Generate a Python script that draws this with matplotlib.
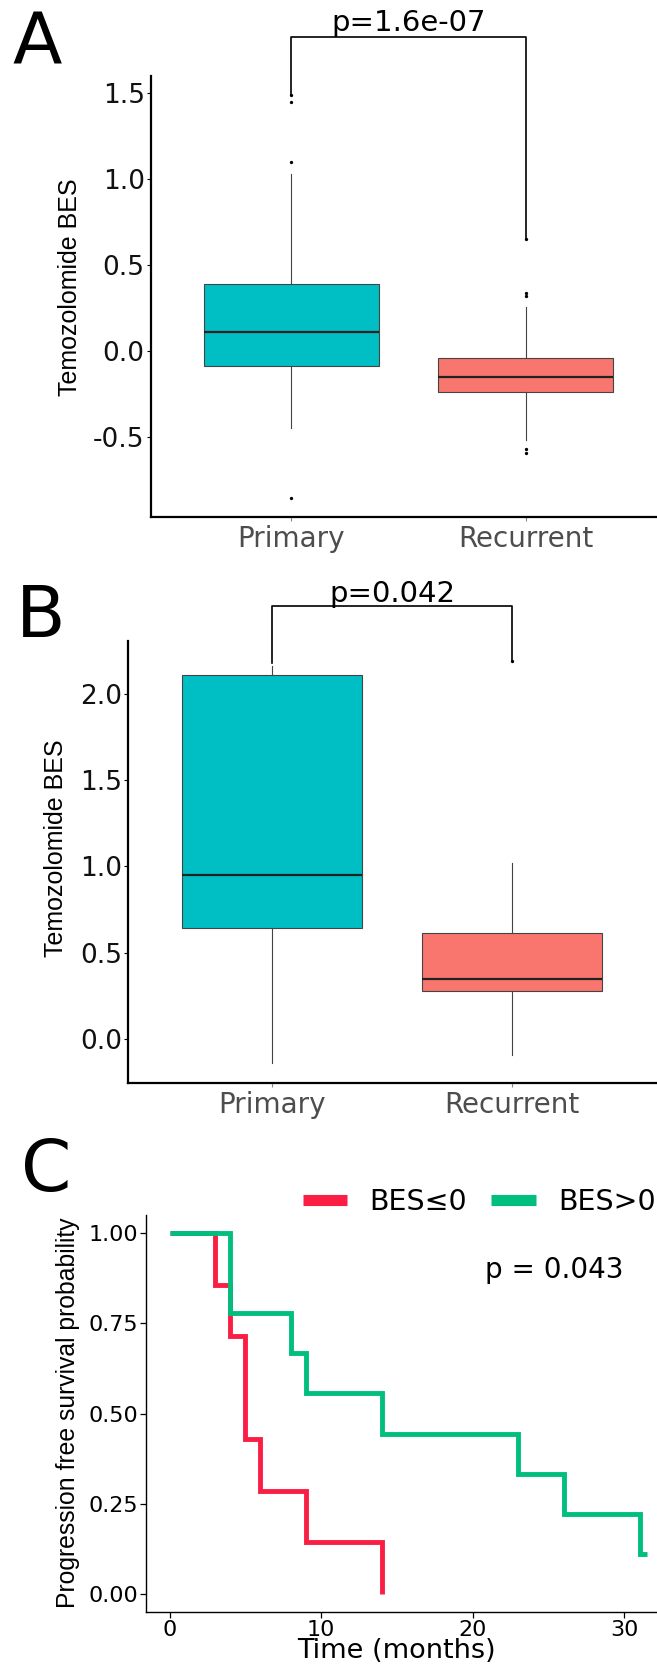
import numpy as np
import matplotlib
matplotlib.use('Agg')
import matplotlib.pyplot as plt
from matplotlib.lines import Line2D

# figure size in pixels (dpi 100)
W, H = 657, 1664

# ---- Panel A: first cohort boxplot ----
groups = ['Primary', 'Recurrent']
box_colors = ['#00BFC4', '#F8766D']

a_q1 = [-0.084, -0.24]
a_med = [0.112, -0.152]
a_q3 = [0.388, -0.04]
a_whislo = [-0.446, -0.52]
a_whishi = [1.03, 0.254]
a_fliers = [[1.10, 1.45, 1.488, -0.853], [0.32, 0.335, 0.65, -0.57, -0.59]]
a_yticks = [-0.5, 0.0, 0.5, 1.0, 1.5]
a_p = 'p=1.6e-07'

# ---- Panel B: second cohort boxplot ----
b_q1 = [0.644, 0.279]
b_med = [0.952, 0.346]
b_q3 = [2.107, 0.612]
b_whislo = [-0.14, -0.09]
b_whishi = [2.16, 1.02]
b_fliers = [[], [2.19]]
b_yticks = [0.0, 0.5, 1.0, 1.5, 2.0]
b_p = 'p=0.042'

# ---- Panel C: Kaplan-Meier ----
km_labels = ['BES\u22640', 'BES>0']
km_colors = ['#FA1E44', '#00BE7E']
red_times = [0, 3, 4, 5, 6, 9, 14]
red_surv = [1.0, 0.857, 0.714, 0.429, 0.286, 0.143, 0.0]
green_times = [0, 4, 8, 9, 14, 23, 26, 31, 31.5]
green_surv = [1.0, 0.778, 0.667, 0.556, 0.444, 0.333, 0.222, 0.111, 0.111]
c_xticks = [0, 10, 20, 30]
c_yticks = [0.00, 0.25, 0.50, 0.75, 1.00]
c_p = 'p = 0.043'

YLAB_FONT = ['Liberation Sans', 'DejaVu Sans']
plt.rcParams['font.family'] = ['DejaVu Sans']


def px_rect(left, top, right, bottom):
    return [left / W, 1 - bottom / H, (right - left) / W, (bottom - top) / H]


def fig_xy(x, y):
    return x / W, 1 - y / H


def box_panel(fig, ax, q1, med, q3, lo, hi, fliers, ylim, yticks,
              p_text, bracket_y, tips, p_gap, ylab_x, ylab_y):
    stats = []
    for i in range(len(groups)):
        stats.append(dict(q1=q1[i], med=med[i], q3=q3[i], whislo=lo[i],
                          whishi=hi[i], fliers=fliers[i], label=groups[i]))
    bp = ax.bxp(stats, positions=[1, 2], widths=0.75, patch_artist=True,
                showcaps=False,
                boxprops=dict(edgecolor='#444444', linewidth=0.8),
                medianprops=dict(color='#222222', linewidth=1.6),
                whiskerprops=dict(color='#444444', linewidth=0.8),
                flierprops=dict(marker='o', markersize=2.4,
                                markerfacecolor='black',
                                markeredgecolor='none'))
    for patch, c in zip(bp['boxes'], box_colors):
        patch.set_facecolor(c)

    ax.set_xlim(0.4, 2.6)
    ax.set_ylim(ylim)
    ax.set_yticks(yticks)
    ax.set_yticklabels(['%.1f' % v for v in yticks])
    for s in ['top', 'right']:
        ax.spines[s].set_visible(False)
    for s in ['left', 'bottom']:
        ax.spines[s].set_linewidth(1.6)
    ax.tick_params(axis='y', length=3, width=0.8, pad=1.5, labelsize=19,
                   labelcolor='#111111')
    ax.tick_params(axis='x', length=3, width=0.8, color='#888888', pad=3,
                   labelsize=20, labelcolor='#4D4D4D')

    # significance bracket
    ax.plot([1, 1, 2, 2], [tips[0], bracket_y, bracket_y, tips[1]],
            color='black', linewidth=1.2, clip_on=False)
    ax.text(1.5, bracket_y + p_gap, p_text, ha='center', va='baseline',
            fontsize=21, clip_on=False)

    ax.set_ylabel('Temozolomide BES', family=YLAB_FONT, fontsize=18)
    ax.yaxis.set_label_coords(*fig_xy(ylab_x, ylab_y), transform=fig.transFigure)
    ax.yaxis.label.set_va('center')


fig = plt.figure(figsize=(W / 100, H / 100), dpi=100)

# Panel A
ax_a = fig.add_axes(px_rect(151, 76, 666, 517))
box_panel(fig, ax_a, a_q1, a_med, a_q3, a_whislo, a_whishi, a_fliers,
          (-0.965, 1.60), a_yticks, a_p, 1.825, [1.488, 0.65], 0.035, 70, 287)

# Panel B
ax_b = fig.add_axes(px_rect(128, 641, 656, 1083))
box_panel(fig, ax_b, b_q1, b_med, b_q3, b_whislo, b_whishi, b_fliers,
          (-0.255, 2.305), b_yticks, b_p, 2.508, [2.175, 2.19], 0.025, 56, 848)

# Panel C
ax_c = fig.add_axes(px_rect(146, 1215, 663, 1612))
ax_c.step(red_times, red_surv, where='post', color=km_colors[0],
          linewidth=3.5, solid_capstyle='butt', solid_joinstyle='miter')
ax_c.step(green_times, green_surv, where='post', color=km_colors[1],
          linewidth=3.5, solid_capstyle='butt', solid_joinstyle='miter')
ax_c.set_xlim(-1.55, 32.55)
ax_c.set_ylim(-0.05, 1.05)
ax_c.set_xticks(c_xticks)
ax_c.set_yticks(c_yticks)
ax_c.set_yticklabels(['%.2f' % v for v in c_yticks])
for s in ['top', 'right']:
    ax_c.spines[s].set_visible(False)
for s in ['left', 'bottom']:
    ax_c.spines[s].set_linewidth(1.0)
ax_c.tick_params(axis='both', length=4, width=0.9, pad=1.5, labelsize=16,
                 labelcolor='black')
ax_c.text(25.4, 0.876, c_p, ha='center', va='baseline', fontsize=20)

ax_c.set_ylabel('Progression free survival probability', family=YLAB_FONT,
                fontsize=17.8)
ax_c.yaxis.set_label_coords(*fig_xy(68, 1413), transform=fig.transFigure)
ax_c.yaxis.label.set_va('center')
ax_c.set_xlabel('Time (months)', fontsize=19.5)
ax_c.xaxis.set_label_coords(*fig_xy(396, 1651), transform=fig.transFigure)
ax_c.xaxis.label.set_va('center')

handles = [Line2D([], [], color=c, linewidth=8, solid_capstyle='butt')
           for c in km_colors]
fig.legend(handles, km_labels, loc='center right',
           bbox_to_anchor=(656 / W, 1 - 1202 / H), ncol=2, frameon=False,
           fontsize=20.5, handlelength=1.55, handletextpad=0.8,
           columnspacing=0.85, borderaxespad=0, borderpad=0)

# panel letters
fig.text(*fig_xy(12, 10), 'A', fontsize=52, ha='left', va='top')
fig.text(*fig_xy(16, 583), 'B', fontsize=52, ha='left', va='top')
fig.text(*fig_xy(21, 1137), 'C', fontsize=52, ha='left', va='top')

fig.savefig('out.png', dpi=100)
